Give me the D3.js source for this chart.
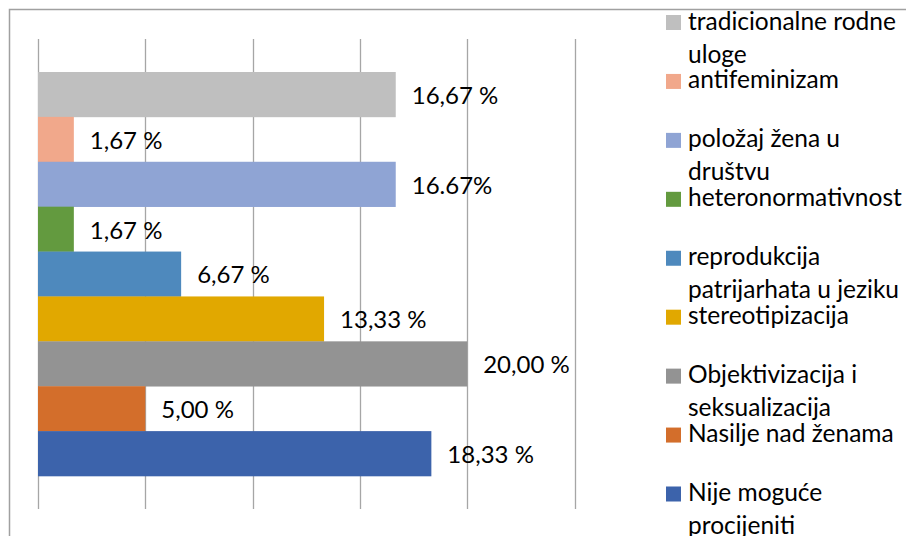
<!DOCTYPE HTML>
<html>
<head>
<meta charset="utf-8">
<title>Bar chart</title>
<style>
body { margin: 0; background: #fff; }
text { font-family: Lato, "Open Sans", sans-serif; fill: #000; }
.grid line { stroke: #a6a6a6; stroke-width: 1.3px; }
.frame { fill: none; stroke: #a0a0a0; stroke-width: 1.5px; }
</style>
</head>
<body>
<script src="https://d3js.org/d3.v7.min.js"></script>
<script>
// series, top to bottom as drawn
var categories = ["tradicionalne rodne\nuloge", "antifeminizam", "položaj žena u\ndruštvu",
  "heteronormativnost", "reprodukcija\npatrijarhata u jeziku", "stereotipizacija",
  "Objektivizacija i\nseksualizacija", "Nasilje nad ženama", "Nije moguće\nprocijeniti"];
var values = [16.67, 1.67, 16.67, 1.67, 6.67, 13.33, 20.00, 5.00, 18.33];
var valueLabels = ["16,67 %", "1,67 %", "16.67%", "1,67 %", "6,67 %", "13,33 %", "20,00 %", "5,00 %", "18,33 %"];
var colors = ["#bfbfbf", "#f1a88b", "#8fa4d4", "#639a3f", "#4e89bd", "#e1a800", "#939393", "#d36e2b", "#3c63ab"];
var gridTicks = [0, 5, 10, 15, 20, 25];

var width = 906, height = 536;

var svg = d3.select("body").append("svg")
    .attr("width", width)
    .attr("height", height);

// chart frame (runs off the right and bottom edges)
svg.append("rect")
    .attr("class", "frame")
    .attr("x", 9.5)
    .attr("y", 9.5)
    .attr("width", width)
    .attr("height", height);

var x = d3.scaleLinear()
    .domain([0, 25])
    .range([38, 574.5]);

var y = d3.scaleBand()
    .domain(d3.range(values.length))
    .range([39, 509])
    .paddingInner(0)
    .paddingOuter(0.735);

// vertical gridlines
svg.append("g")
    .attr("class", "grid")
  .selectAll("line")
    .data(gridTicks)
  .enter().append("line")
    .attr("x1", function(d) { return Math.round(x(d)) + 0.5; })
    .attr("x2", function(d) { return Math.round(x(d)) + 0.5; })
    .attr("y1", y.range()[0])
    .attr("y2", y.range()[1]);

// bars
svg.append("g").selectAll("rect")
    .data(values)
  .enter().append("rect")
    .attr("x", x(0))
    .attr("y", function(d, i) { return y(i); })
    .attr("width", function(d) { return x(d) - x(0); })
    .attr("height", y.bandwidth() + 0.3)
    .attr("fill", function(d, i) { return colors[i]; });

// value labels
svg.append("g").selectAll("text")
    .data(values)
  .enter().append("text")
    .attr("x", function(d) { return x(d) + 16; })
    .attr("y", function(d, i) { return y(i) + y.bandwidth() / 2 + 1; })
    .attr("dy", "0.35em")
    .style("font-size", "24px")
    .text(function(d, i) { return valueLabels[i]; });

// legend
var legendY = d3.scaleLinear()
    .domain([0, categories.length - 1])
    .range([22.5, 494]);

var legend = svg.append("g").selectAll("g")
    .data(categories)
  .enter().append("g")
    .attr("transform", function(d, i) { return "translate(666," + legendY(i) + ")"; });

legend.append("rect")
    .attr("x", 0)
    .attr("y", -7.5)
    .attr("width", 15)
    .attr("height", 15)
    .attr("fill", function(d, i) { return colors[i]; });

legend.append("text")
    .attr("x", 22)
    .attr("y", 7)
    .style("font-size", "24.5px")
  .selectAll("tspan")
    .data(function(d) { return d.split("\n"); })
  .enter().append("tspan")
    .attr("x", 22)
    .attr("dy", function(d, j) { return j === 0 ? 0 : 33; })
    .text(function(d) { return d; });
</script>
</body>
</html>
